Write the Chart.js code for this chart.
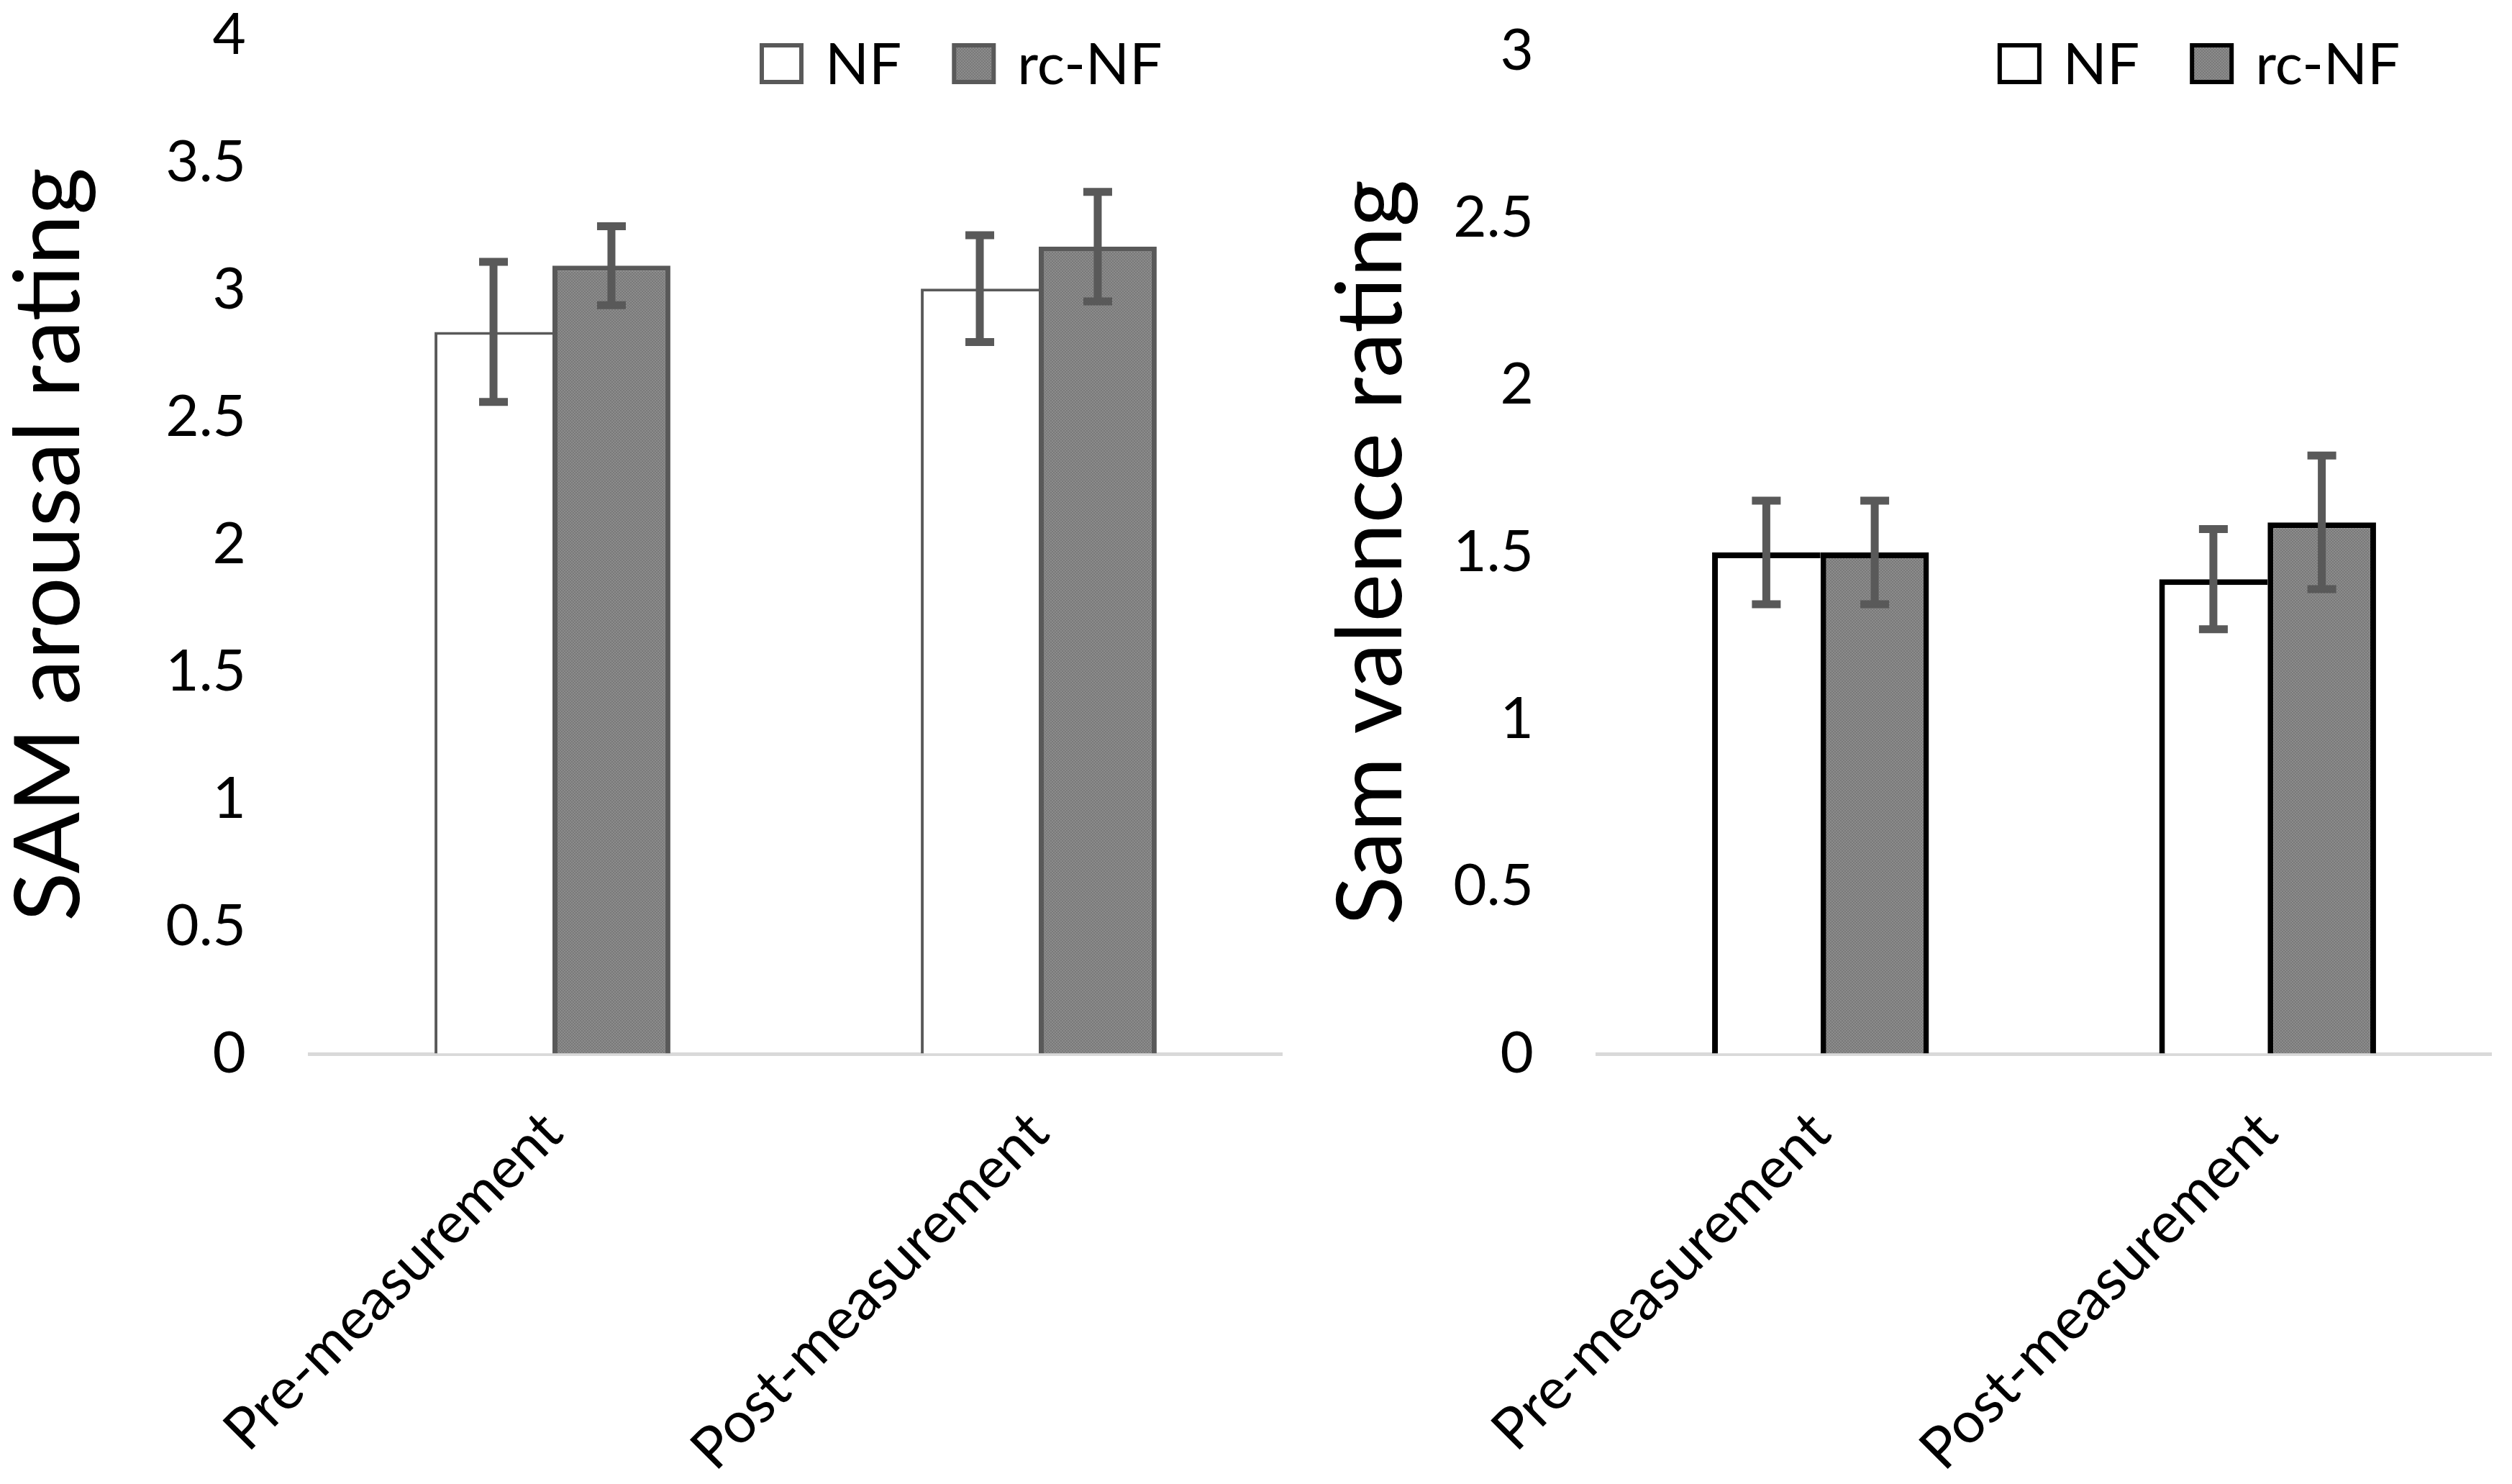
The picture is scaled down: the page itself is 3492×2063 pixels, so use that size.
<!DOCTYPE html>
<html>
<head>
<meta charset="utf-8">
<script src="https://cdn.jsdelivr.net/npm/chart.js@4.4.1/dist/chart.umd.min.js"></script>
<style>
html,body{margin:0;padding:0;background:#fff;width:3492px;height:2063px;overflow:hidden}
canvas{position:absolute;top:0}
#c1{left:0}
#c2{left:1830px}
</style>
</head>
<body>
<canvas id="c1" width="1830" height="2063"></canvas>
<canvas id="c2" width="1662" height="2063"></canvas>
<script>
// ---- data ----
const categories = ['Pre-measurement', 'Post-measurement'];
const seriesNames = ['NF', 'rc-NF'];

const arousalNF = [2.835, 3.005];
const arousalRcNF = [3.095, 3.17];
const arousalNFErr = [0.275, 0.21];
const arousalRcNFErr = [0.155, 0.215];
const arousalTicks = [0, 0.5, 1, 1.5, 2, 2.5, 3, 3.5, 4];
const arousalTitle = 'SAM arousal rating';

const valenceNF = [1.5, 1.42];
const valenceRcNF = [1.5, 1.59];
const valenceNFErr = [0.155, 0.15];
const valenceRcNFErr = [0.155, 0.2];
const valenceTicks = [0, 0.5, 1, 1.5, 2, 2.5, 3];
const valenceTitle = 'Sam valence rating';

const FONT = 'Lato';

function makePattern(ctx) {
  const c = document.createElement('canvas');
  c.width = 4; c.height = 4;
  const g = c.getContext('2d');
  g.fillStyle = '#8c8c8c'; g.fillRect(0, 0, 4, 4);
  g.fillStyle = '#797979'; g.fillRect(0, 0, 2, 2); g.fillRect(2, 2, 2, 2);
  return ctx.createPattern(c, 'repeat');
}

const errorBars = {
  id: 'errorBars',
  afterDatasetsDraw(chart, args, o) {
    const ctx = chart.ctx, y = chart.scales.y;
    chart.data.datasets.forEach((ds, di) => {
      const meta = chart.getDatasetMeta(di);
      meta.data.forEach((bar, i) => {
        const v = ds.data[i], e = ds.errors[i];
        const yt = y.getPixelForValue(v + e), yb = y.getPixelForValue(v - e);
        ctx.save();
        ctx.strokeStyle = o.color; ctx.lineWidth = o.width; ctx.lineCap = 'butt';
        ctx.beginPath();
        ctx.moveTo(bar.x, yt - o.width / 2); ctx.lineTo(bar.x, yb + o.width / 2);
        ctx.moveTo(bar.x - o.cap / 2, yt); ctx.lineTo(bar.x + o.cap / 2, yt);
        ctx.moveTo(bar.x - o.cap / 2, yb); ctx.lineTo(bar.x + o.cap / 2, yb);
        ctx.stroke();
        ctx.restore();
      });
    });
  }
};

const boxLegend = {
  id: 'boxLegend',
  afterDraw(chart, args, o) {
    const ctx = chart.ctx, a = chart.chartArea;
    let x = a.left + o.start * (a.right - a.left);
    ctx.save();
    ctx.font = o.fontSize + 'px ' + FONT;
    ctx.textBaseline = 'alphabetic';
    ctx.textAlign = 'left';
    chart.data.datasets.forEach(ds => {
      ctx.fillStyle = o.borderColor;
      ctx.fillRect(x, o.top, o.boxW, o.boxH);
      ctx.fillStyle = ds.legendFill;
      ctx.fillRect(x + o.lw, o.top + o.lw, o.boxW - 2 * o.lw, o.boxH - 2 * o.lw);
      x += o.boxW + o.gap;
      ctx.fillStyle = '#000';
      ctx.fillText(ds.label, x, o.top + o.boxH);
      x += ctx.measureText(ds.label).width + o.itemGap;
    });
    ctx.restore();
  }
};

function makeChart(canvas, cfg) {
  const ctx = canvas.getContext('2d');
  const pat = makePattern(ctx);
  return new Chart(canvas, {
    type: 'bar',
    data: {
      labels: categories,
      datasets: [
        { label: seriesNames[0], data: cfg.nf, errors: cfg.nfErr, backgroundColor: '#ffffff',
          borderColor: cfg.nfBorder, borderWidth: { top: cfg.nfBW, left: cfg.nfBW, right: 0, bottom: 0 },
          borderSkipped: 'start', legendFill: '#ffffff' },
        { label: seriesNames[1], data: cfg.rc, errors: cfg.rcErr, backgroundColor: pat,
          borderColor: cfg.rcBorder, borderWidth: cfg.rcBW, borderSkipped: 'start', legendFill: pat }
      ]
    },
    options: {
      responsive: false,
      animation: false,
      devicePixelRatio: 1,
      layout: { padding: { left: 0, right: cfg.padRight, top: cfg.padTop, bottom: 0 } },
      datasets: { bar: { categoryPercentage: 0.485, barPercentage: 1.0 } },
      plugins: {
        legend: { display: false },
        tooltip: { enabled: false },
        errorBars: { color: '#595959', width: 11, cap: 40 },
        boxLegend: { start: cfg.legendStart, top: 60, boxW: 61, boxH: 57, lw: 6, gap: 30, itemGap: 70,
                     fontSize: 80, borderColor: cfg.legendBorder }
      },
      scales: {
        x: {
          grid: { display: true, color: 'rgba(0,0,0,0)', drawTicks: false },
          border: { display: true, color: '#d9d9d9', width: 5 },
          ticks: { font: { family: FONT, size: 80 }, color: '#000', minRotation: 45, maxRotation: 45,
                   padding: 62, autoSkip: false },
          afterFit(s) { s.height = 598; }
        },
        y: {
          min: 0, max: cfg.ticks[cfg.ticks.length - 1],
          grid: { display: true, color: 'rgba(0,0,0,0)', drawTicks: true, tickLength: 88 },
          border: { display: false },
          ticks: { font: { family: FONT, size: 80 }, color: '#000', padding: 0,
                   callback: v => String(v) },
          afterBuildTicks(s) { s.ticks = cfg.ticks.map(v => ({ value: v })); },
          afterFit(s) { s.width = cfg.yWidth; },
          title: { display: true, text: cfg.title, color: '#000',
                   font: { family: FONT, size: 126, lineHeight: 0.85 },
                   padding: { top: cfg.titlePad, bottom: 0 } }
        }
      }
    },
    plugins: [errorBars, boxLegend]
  });
}

function init() {
  makeChart(document.getElementById('c1'), {
    nf: arousalNF, rc: arousalRcNF, nfErr: arousalNFErr, rcErr: arousalRcNFErr,
    ticks: arousalTicks, title: arousalTitle,
    nfBorder: '#595959', nfBW: 4, rcBorder: '#595959', rcBW: 7,
    legendBorder: '#595959', legendStart: 0.463,
    padRight: 48, padTop: 49, yWidth: 430, titlePad: 16
  });
  makeChart(document.getElementById('c2'), {
    nf: valenceNF, rc: valenceRcNF, nfErr: valenceNFErr, rcErr: valenceRcNFErr,
    ticks: valenceTicks, title: valenceTitle,
    nfBorder: '#000000', nfBW: 8, rcBorder: '#000000', rcBW: 8,
    legendBorder: '#000000', legendStart: 0.448,
    padRight: 29, padTop: 71, yWidth: 390, titlePad: 24
  });
}

if (document.fonts && document.fonts.load) {
  Promise.all([document.fonts.load('80px ' + FONT), document.fonts.load('126px ' + FONT)])
    .then(init, init);
} else {
  init();
}
</script>
</body>
</html>
